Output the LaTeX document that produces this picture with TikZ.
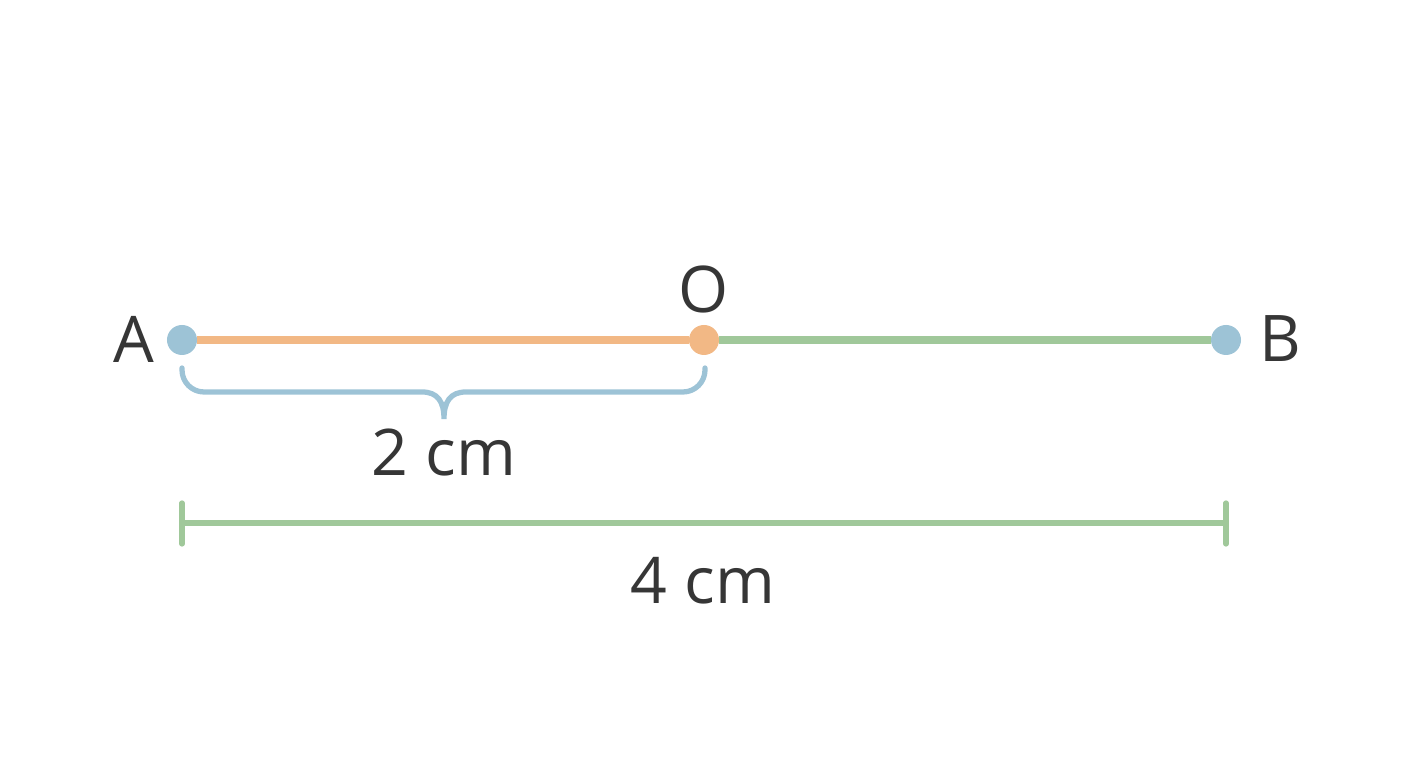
\documentclass[tikz,border=0pt]{standalone}
\usepackage{fontspec}
\setmainfont{Open Sans}
\usetikzlibrary{calc}
\usetikzlibrary{positioning}

\definecolor{ptblue}{HTML}{9DC3D6}
\definecolor{segorange}{HTML}{F2B885}
\definecolor{seggreen}{HTML}{A0C89A}
\definecolor{txtgray}{HTML}{363636}

\begin{document}
\begin{tikzpicture}[x=0.01cm,y=-0.01cm,
    dot/.style={circle,inner sep=0pt,outer sep=0pt,minimum size=0.3cm},
    seg/.style={line width=2.4pt},
    lbl/.style={text=txtgray,font=\fontsize{18.3}{22}\selectfont,inner sep=0pt}]
      \useasboundingbox (0,0) rectangle (1408,768);
      \node[dot,fill=ptblue] (A) at (182,340) {};
      \node[dot,fill=segorange] (O) at (704,340) {};
      \node[dot,fill=ptblue] (B) at (1226,340) {};
      \draw[seg,segorange] (A) -- (O);
      \draw[seg,seggreen] (O) -- (B);
      \node[lbl] (labA) at (134,339) {A};
      \node[lbl] (labO) at (704,289) {O};
      \node[lbl] (labB) at (1280,339) {B};
      % brace under AO
      \coordinate (br1) at (182,368);
      \coordinate (br2) at (705,368);
      \coordinate (tip) at (444,419);
      \draw[ptblue,line width=1.5pt,line cap=round]
        (br1) -- ++(0,2) arc[start angle=180,end angle=90,radius=22]
        -- (422,392) .. controls (438,392) and (444,402) .. (tip)
        .. controls (444,402) and (450,392) .. (466,392)
        -- (683,392) arc[start angle=90,end angle=0,radius=22] -- (br2);
      \node[lbl] (half) at (444,453) {2 cm};
      % full length
      \coordinate (d1) at (182,523);
      \coordinate (d2) at (1226,523);
      \draw[seggreen,line width=1.5pt,line cap=round] (d1) -- (d2);
      \draw[seggreen,line width=1.5pt,line cap=round] ($(d1)+(0,-20)$) -- ($(d1)+(0,21)$);
      \draw[seggreen,line width=1.5pt,line cap=round] ($(d2)+(0,-20)$) -- ($(d2)+(0,21)$);
      \node[lbl] (full) at (703,581) {4 cm};
    \end{tikzpicture}
\end{document}
